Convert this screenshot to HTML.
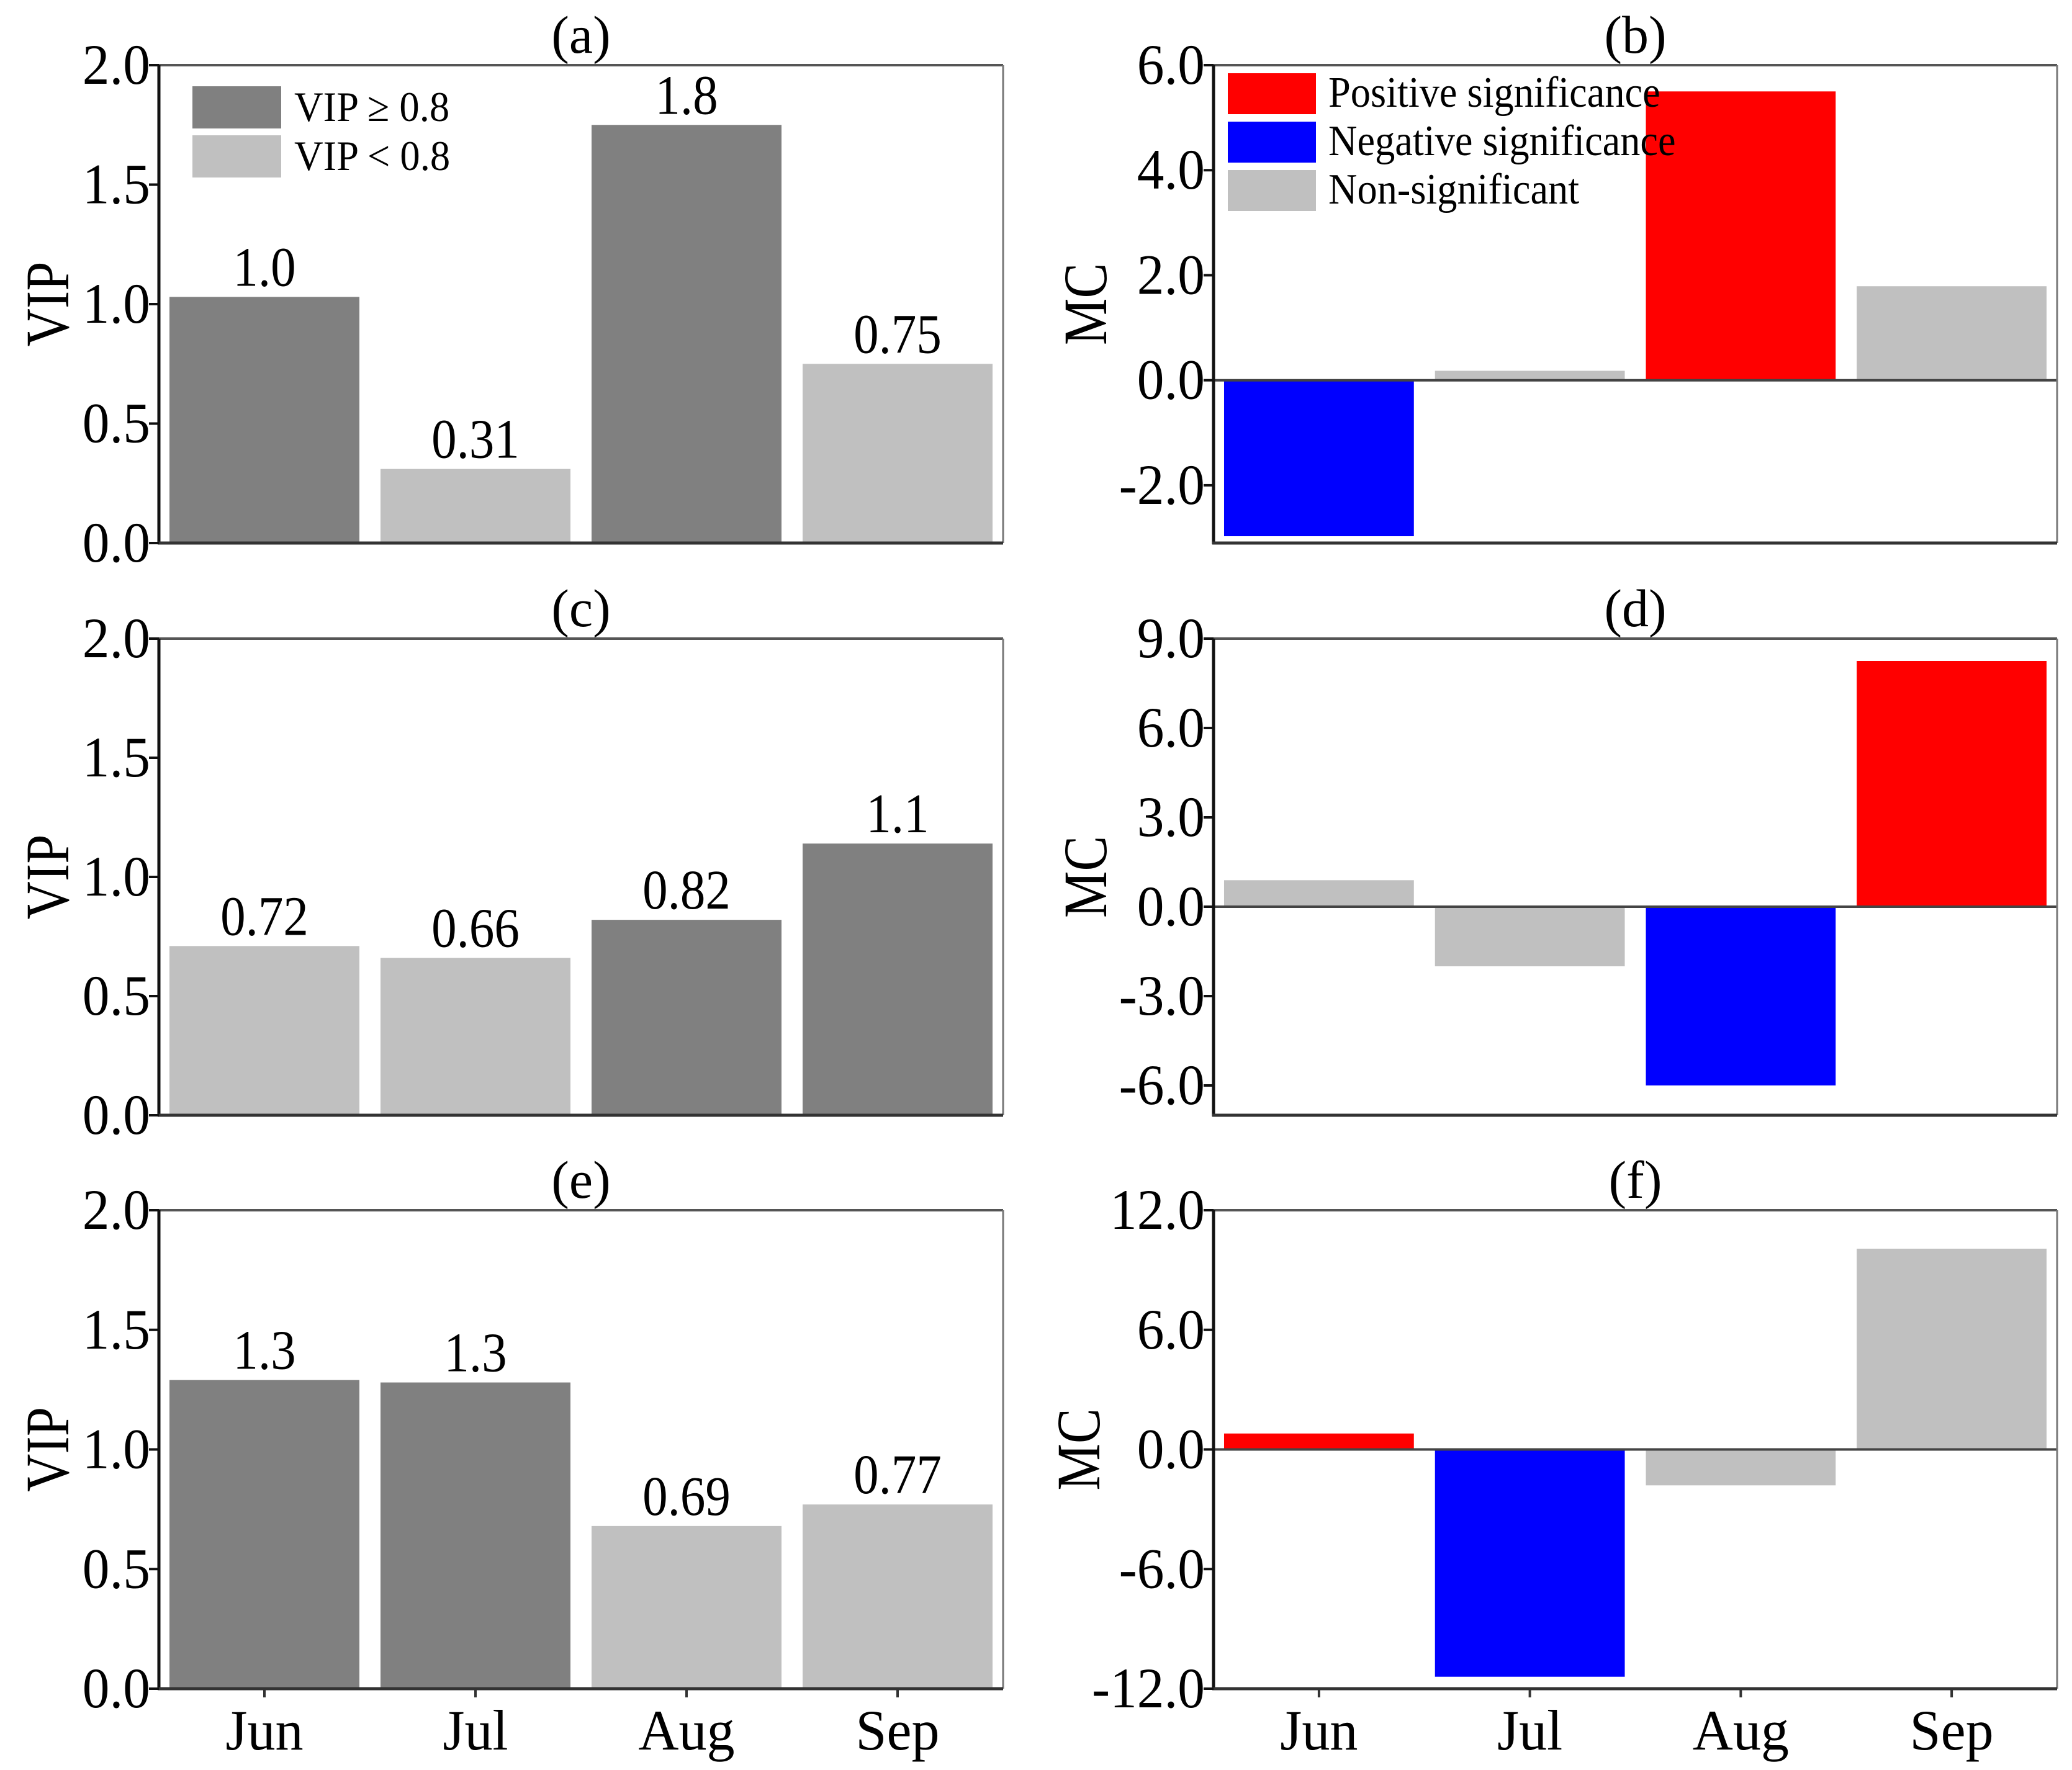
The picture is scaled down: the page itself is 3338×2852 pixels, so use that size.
<!DOCTYPE html>
<html><head><meta charset="utf-8">
<style>
html,body{margin:0;padding:0;background:#fff;}
svg{display:block;font-family:"Liberation Serif",serif;}
</style></head>
<body>
<svg id="chart" width="3338" height="2852" viewBox="0 0 3338 2852" xmlns="http://www.w3.org/2000/svg"></svg>
<script>
const months = ["Jun","Jul","Aug","Sep"];
const vipA = [1.03, 0.31, 1.75, 0.75];
const vipALabels = ["1.0","0.31","1.8","0.75"];
const vipC = [0.71, 0.66, 0.82, 1.14];
const vipCLabels = ["0.72","0.66","0.82","1.1"];
const vipE = [1.29, 1.28, 0.68, 0.77];
const vipELabels = ["1.3","1.3","0.69","0.77"];
const mcB = [-2.97, 0.18, 5.5, 1.79];
const mcD = [0.89, -2.0, -6.0, 8.25];
const mcF = [0.8, -11.4, -1.8, 10.07];
const catA = ["d","l","d","l"];
const catC = ["l","l","d","d"];
const catE = ["d","d","l","l"];
const sigB = ["n","g","p","g"];
const sigD = ["g","g","n","p"];
const sigF = ["p","n","g","g"];
const vipTicks = [0,0.5,1.0,1.5,2.0];
const mcTicksB = [-2,0,2,4,6];
const mcTicksD = [-6,-3,0,3,6,9];
const mcTicksF = [-12,-6,0,6,12];

const NS="http://www.w3.org/2000/svg";
const svg=document.getElementById('chart');
const COL={d:"#808080",l:"#c0c0c0",p:"#ff0000",n:"#0000ff",g:"#c0c0c0"};
function mk(tag,attrs,parent,text){const e=document.createElementNS(NS,tag);for(const k in attrs)e.setAttribute(k,attrs[k]);if(text!==undefined)e.textContent=text;(parent||svg).appendChild(e);return e;}
function txt(parent,x,y,str,size,sx,anchor,rot){
  return mk('text',{x:0,y:0,'font-size':size,'text-anchor':anchor||'start',fill:'#000',
    transform:`translate(${x},${y})${rot?' rotate('+rot+')':''} scale(${sx},1)`},parent,str);
}

function panel(opt){
  const g=mk('g',{});
  
  
  const {x0,x1,y0,y1,min,max}=opt;
  const ys=v=>y1-(v-min)/(max-min)*(y1-y0);
  const cw=(x1-x0)/4;
  const xc=i=>x0+cw*(i+0.5);
  const bw=cw*0.9;
  opt.values.forEach((v,i)=>{
    const base=ys(Math.max(min,0)), top=ys(v);
    const r=mk('rect',{x:xc(i)-bw/2,y:Math.min(base,top),width:bw,height:Math.abs(base-top),fill:COL[opt.cats[i]]},g);
    
    
    if(opt.labels){
      const t=txt(g,xc(i),top-18,opt.labels[i],90,0.9,'middle');
      
      
    }
  });
  if(min<0){
    const z=mk('line',{x1:x0,x2:x1,y1:ys(0),y2:ys(0),stroke:'#444','stroke-width':4},g);
    
    
  }
  mk('line',{x1:x0,x2:x1,y1:y0,y2:y0,stroke:'#555','stroke-width':4},g);
  mk('line',{x1:x1,x2:x1,y1:y0,y2:y1,stroke:'#777','stroke-width':3},g);
  const ax=mk('line',{x1:x0,x2:x0,y1:y0,y2:y1+2,stroke:'#111','stroke-width':5},g);
  
  
  const bx=mk('line',{x1:x0-2,x2:x1,y1:y1,y2:y1,stroke:'#333','stroke-width':5},g);
  
  
  opt.ticks.forEach(v=>{
    mk('line',{x1:x0-16,x2:x0,y1:ys(v),y2:ys(v),stroke:'#111','stroke-width':4},g);
    const t=txt(g,x0-14,ys(v)+30,opt.fmt(v),92,0.95,'end');
    
    
  });
  const yt=txt(g,opt.ytx,(y0+y1)/2,opt.ytitle,100,0.85,'middle',-90);
  
  
  const pt=txt(g,(x0+x1)/2,y0-20,opt.title,86,1,'middle');
  
  
  if(opt.xlabels){
    months.forEach((m,i)=>{
      mk('line',{x1:xc(i),x2:xc(i),y1:y1,y2:y1+14,stroke:'#333','stroke-width':4},g);
      const t=txt(g,xc(i),y1+98,m,92,0.98,'middle');
      
      
    });
  }
  return g;
}
const f1=v=>v.toFixed(1);
const LX0=256,LX1=1616,RX0=1955,RX1=3314;
const rows=[[105,875],[1029,1797],[1950,2721]];
panel({name:'panel-a',x0:LX0,x1:LX1,y0:rows[0][0],y1:rows[0][1],min:0,max:2,values:vipA,cats:catA,labels:vipALabels,ticks:vipTicks,fmt:f1,ytitle:'VIP',ytx:110,title:'(a)'});
panel({name:'panel-b',x0:RX0,x1:RX1,y0:rows[0][0],y1:rows[0][1],min:-3.1,max:6,values:mcB,cats:sigB,ticks:mcTicksB,fmt:f1,ytitle:'MC',ytx:1782,title:'(b)'});
panel({name:'panel-c',x0:LX0,x1:LX1,y0:rows[1][0],y1:rows[1][1],min:0,max:2,values:vipC,cats:catC,labels:vipCLabels,ticks:vipTicks,fmt:f1,ytitle:'VIP',ytx:110,title:'(c)'});
panel({name:'panel-d',x0:RX0,x1:RX1,y0:rows[1][0],y1:rows[1][1],min:-7,max:9,values:mcD,cats:sigD,ticks:mcTicksD,fmt:f1,ytitle:'MC',ytx:1782,title:'(d)'});
panel({name:'panel-e',x0:LX0,x1:LX1,y0:rows[2][0],y1:rows[2][1],min:0,max:2,values:vipE,cats:catE,labels:vipELabels,ticks:vipTicks,fmt:f1,ytitle:'VIP',ytx:110,title:'(e)',xlabels:true});
panel({name:'panel-f',x0:RX0,x1:RX1,y0:rows[2][0],y1:rows[2][1],min:-12,max:12,values:mcF,cats:sigF,ticks:mcTicksF,fmt:f1,ytitle:'MC',ytx:1771,title:'(f)',xlabels:true});

const la=mk('g',{});


[["d","VIP ≥ 0.8",139],["l","VIP < 0.8",218]].forEach(([c,t,y])=>{
  const r=mk('rect',{x:310,y:y,width:143,height:68,fill:COL[c]},la);
  
  
  const tx=txt(la,474,y+56,t,68,0.95,'start');
  
  
});
const lb=mk('g',{});


[["p","Positive significance",118],["n","Negative significance",196],["g","Non-significant",274]].forEach(([c,t,y])=>{
  const r=mk('rect',{x:1978,y:y,width:142,height:66,fill:COL[c]},lb);
  
  
  const tx=txt(lb,2140,y+54,t,70,0.92,'start');
  
  
});
</script>
</body></html>
